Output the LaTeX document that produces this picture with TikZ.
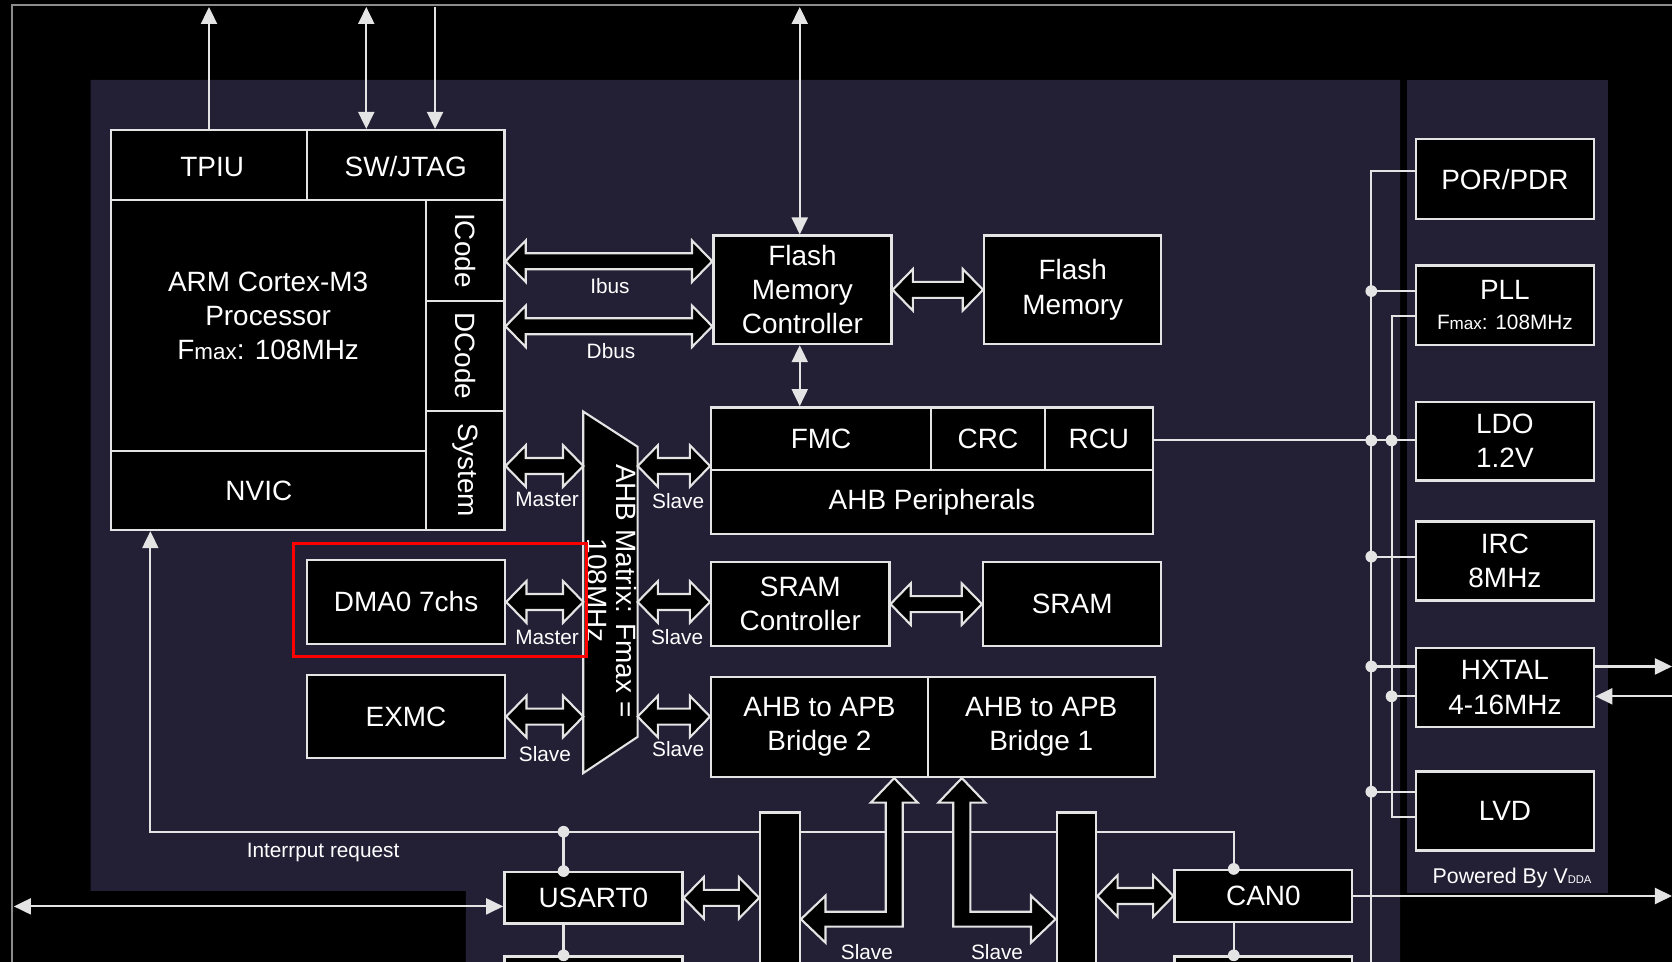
\documentclass[tikz,border=0pt]{standalone}
\usepackage{fontspec}
\setmainfont{Liberation Sans}
\usetikzlibrary{arrows.meta,calc}
\pgfdeclarelayer{background}
\pgfsetlayers{background,main}
\definecolor{bgpurple}{RGB}{35,31,53}
\definecolor{linec}{RGB}{228,228,228}
\definecolor{framec}{RGB}{140,140,140}
\newcommand\fbig{\fontsize{26.2}{32}\selectfont}
\newcommand\fsml{\fontsize{19.5}{22}\selectfont}
\newcommand\fmaxb{\fontsize{21}{22}\selectfont}
\newcommand\fmaxs{\fontsize{16}{18}\selectfont}
\newcommand\fdda{\fontsize{10.5}{12}\selectfont}
% horizontal hollow double arrow between two points on one level
\newcommand\hfat[2]{%
  \draw[fat] let \p1=#1, \p2=#2 in
    (\x1,\y1) -- (\x1+19pt,\y1+19.5pt) -- (\x1+19pt,\y1+7.5pt) --
    (\x2-19pt,\y2+7.5pt) -- (\x2-19pt,\y2+19.5pt) -- (\x2,\y2) --
    (\x2-19pt,\y2-19.5pt) -- (\x2-19pt,\y2-7.5pt) --
    (\x1+19pt,\y1-7.5pt) -- (\x1+19pt,\y1-19.5pt) -- cycle;}
% L-shaped hollow double arrow: tip up at #1, tip left at #2
\newcommand\lfatL[2]{%
  \draw[fat] let \p1=#1, \p2=#2 in
    (\x1,\y1) -- (\x1+22pt,\y1-23pt) -- (\x1+8pt,\y1-23pt) -- (\x1+8pt,\y2-7pt) --
    (\x2+23pt,\y2-7pt) -- (\x2+23pt,\y2-22pt) -- (\x2,\y2) -- (\x2+23pt,\y2+22pt) --
    (\x2+23pt,\y2+7pt) -- (\x1-8pt,\y2+7pt) -- (\x1-8pt,\y1-23pt) -- (\x1-22pt,\y1-23pt) -- cycle;}
% L-shaped hollow double arrow: tip up at #1, tip right at #2
\newcommand\lfatR[2]{%
  \draw[fat] let \p1=#1, \p2=#2 in
    (\x1,\y1) -- (\x1+22pt,\y1-23pt) -- (\x1+8pt,\y1-23pt) -- (\x1+8pt,\y2+7pt) --
    (\x2-23pt,\y2+7pt) -- (\x2-23pt,\y2+22pt) -- (\x2,\y2) -- (\x2-23pt,\y2-22pt) --
    (\x2-23pt,\y2-7pt) -- (\x1-8pt,\y2-7pt) -- (\x1-8pt,\y1-23pt) -- (\x1-22pt,\y1-23pt) -- cycle;}
\begin{document}
\begin{tikzpicture}[x=1pt,y=-1pt,
  >={Triangle[length=16pt,width=15pt]},
  box/.style={draw=linec, fill=black, line width=2.2pt, text=white, inner sep=0pt, align=center, font=\fbig},
  ln/.style={draw=linec, line width=2pt},
  fat/.style={draw=linec, fill=black, line width=2pt, line join=miter},
  lbl/.style={text=white, font=\fsml, inner sep=0pt},
  rbox/.style={box, minimum width=167.4pt, minimum height=74pt}]
\useasboundingbox (0,0) rectangle (1568,902);

% ---------- CPU block ----------
\node[box, minimum width=184pt, minimum height=65.6pt, text height=22pt, text depth=-3pt] (tpiu) at (196,154.8) {\kern6pt TPIU};
\node[box, minimum width=185pt, minimum height=65.6pt, text height=22pt, text depth=-3pt] (swj) at (380.5,154.8) {SW/JTAG};
\node[box, minimum width=295.5pt, minimum height=235.4pt] (cpu) at (251.75,305.3) {};
\node[text=white, font=\fbig, align=center, inner sep=0pt] (cputxt) at (251.5,296)
  {ARM Cortex-M3\\Processor\\F{\fmaxb max}: 108MHz};
\node[box, minimum width=295.5pt, minimum height=74pt] (nvic) at (251.75,460) {\kern-18pt NVIC};
\node[box, rotate=-90, minimum width=94.4pt, minimum height=73.5pt] (icode) at (436.25,234.8) {ICode};
\node[box, rotate=-90, minimum width=103.5pt, minimum height=73.5pt] (dcode) at (436.25,333.75) {DCode};
\node[box, rotate=-90, minimum width=111.5pt, minimum height=73.5pt] (sys) at (436.25,441.25) {System};

% ---------- memory / peripherals ----------
\node[box, minimum width=167pt, minimum height=101.6pt] (fmcctl) at (752.5,271.8) {Flash\\Memory\\Controller};
\node[box, minimum width=166pt, minimum height=101.6pt] (flash) at (1006,271.8) {Flash\\Memory};
\node[box, minimum width=206pt, minimum height=59pt] (fmc) at (770,411.5) {FMC};
\node[box, minimum width=107pt, minimum height=59pt] (crc) at (926.5,411.5) {CRC};
\node[box, minimum width=101pt, minimum height=59pt] (rcu) at (1030.5,411.5) {RCU};
\node[box, minimum width=414pt, minimum height=60pt] (ahbp) at (874,471) {AHB Peripherals};
\node[box, minimum width=167pt, minimum height=79pt] (sramc) at (750.5,566.5) {SRAM\\Controller};
\node[box, minimum width=167pt, minimum height=79pt] (sram) at (1005.5,566.5) {SRAM};
\node[box, minimum width=203pt, minimum height=93.6pt] (br2) at (768.5,681.8) {AHB to APB\\Bridge 2};
\node[box, minimum width=213pt, minimum height=93.6pt] (br1) at (976.5,681.8) {AHB to APB\\Bridge 1};
\node[box, minimum width=185.6pt, minimum height=79pt] (dma) at (380.8,564.5) {DMA0 7chs};
\node[box, minimum width=185.6pt, minimum height=78pt] (exmc) at (380.8,672) {EXMC};
\node[box, minimum width=167pt, minimum height=48pt] (usart) at (556.5,842) {USART0};
\node[box, minimum width=166.5pt, minimum height=48.5pt] (can) at (1184.75,840.25) {CAN0};
\node[box, minimum width=167pt, minimum height=63pt] (usartb) at (556.5,928.5) {};
\node[box, minimum width=166.5pt, minimum height=63pt] (canb) at (1184.75,928.5) {};

% ---------- right column ----------
\node[rbox, minimum height=74.7pt] (por) at (1411.3,168) {POR/PDR};
\node[rbox, minimum height=74.6pt] (pll) at (1411.3,286.3) {PLL\\[-4pt]{\fsml F{\fmaxs max}: 108MHz}};
\node[rbox] (ldo) at (1411.3,413.7) {LDO\\1.2V};
\node[rbox] (irc) at (1411.3,526) {IRC\\8MHz};
\node[rbox] (hxtal) at (1411.3,644.8) {HXTAL\\4-16MHz};
\node[rbox] (lvd) at (1411.3,760.5) {LVD};
\node[text=white, inner sep=0pt, font=\fontsize{20}{22}\selectfont] (pwr) at (1418,823) {Powered By V{\fdda DDA}};

% ---------- AHB matrix ----------
\coordinate (mxTL) at (547,386);
\coordinate (mxTR) at (598,419);
\coordinate (mxBR) at (598,691);
\coordinate (mxBL) at (547,725);
\draw[fat] (mxTL) -- (mxTR) -- (mxBR) -- (mxBL) -- cycle;
\node[text=white, font=\fontsize{26.2}{27.5}\selectfont, rotate=-90, align=center, inner sep=0pt] (mxt) at (574,554)
  {AHB Matrix: Fmax =\\108MHz};

% ---------- levels ----------
\coordinate (yIbus) at (0,245);
\coordinate (yDbus) at (0,306);
\coordinate (yS) at (0,437);
\coordinate (yL) at (0,862);
\coordinate (lA) at (838.6,0);
\coordinate (lB) at (902,0);

% ---------- fat arrows ----------
\hfat{(swj.east |- yIbus)}{(fmcctl.west |- yIbus)}
\hfat{(swj.east |- yDbus)}{(fmcctl.west |- yDbus)}
\hfat{(fmcctl.east)}{(flash.west |- fmcctl.east)}
\hfat{(swj.east |- yS)}{(mxTL |- yS)}
\hfat{(dma.east)}{(mxTL |- dma.east)}
\hfat{(exmc.east)}{(mxTL |- exmc.east)}
\hfat{(mxTR |- yS)}{(fmc.west |- yS)}
\hfat{(mxTR |- dma.east)}{(sramc.west |- dma.east)}
\hfat{(mxTR |- exmc.east)}{(br2.west |- exmc.east)}
\hfat{(sramc.east)}{(sram.west)}

% ---------- APB bus bars ----------
\node[box, minimum width=37pt, minimum height=198pt] (bar1) at (731.5,861) {};
\node[box, minimum width=37pt, minimum height=198pt] (bar2) at (1009.5,861) {};
\hfat{(usart.east)}{(bar1.west |- usart.east)}
\hfat{(bar2.east |- can.west)}{(can.west)}
\lfatL{(lA |- br2.south)}{(bar1.east |- yL)}
\lfatR{(lB |- br1.south)}{(bar2.west |- yL)}

% ---------- labels ----------
\node[lbl] (ibus) at (572,268) {Ibus};
\node[lbl] (dbus) at (573,329) {Dbus};
\node[lbl] (m1) at (513,468) {Master};
\node[lbl] (m2) at (513,597.5) {Master};
\node[lbl] (s0) at (511,707) {Slave};
\node[lbl] (s1) at (636,470) {Slave};
\node[lbl] (s2) at (635,597.5) {Slave};
\node[lbl] (s3) at (636,702) {Slave};
\node[lbl] (s4) at (813,893) {Slave};
\node[lbl] (s5) at (935,893) {Slave};
\node[lbl] (irq) at (303,799) {Interrput request};

% ---------- highlight ----------
\node[draw=red, line width=3pt, minimum width=275pt, minimum height=106pt, inner sep=0pt] (hl) at (412.5,563) {};

% ---------- coordinates for thin connectors ----------
\coordinate (ytop) at (0,6.5);
\coordinate (jA) at (343.5,6.5);
\coordinate (jB) at (408,6.5);
\coordinate (fA) at (750,6.5);
\coordinate (iR) at (1157,780);
\coordinate (iL) at (141,780);
\coordinate (iU) at (528.5,780);
\coordinate (uL) at (13,850);
\coordinate (xr) at (1568,0);
\coordinate (hx1) at (0,625);
\coordinate (hx2) at (0,653);
\coordinate (v1t) at (1286,160);
\coordinate (v1b) at (1286,915);
\coordinate (v2t) at (1305,296.4);
\coordinate (v2b) at (1305,766);
\coordinate (kP) at (1286,273);
\coordinate (kL) at (1286,413);
\coordinate (kL2) at (1305,413);
\coordinate (kI) at (1286,522);
\coordinate (kH) at (1286,625);
\coordinate (kH2) at (1305,653);
\coordinate (kV) at (1286,742.5);

\begin{pgfonlayer}{background}
  \fill[black] (0,0) rectangle (1568,902);
  \fill[bgpurple] (85,75) -- (1313,75) -- (1313,915) -- (437,915) -- (437,835.5) -- (85,835.5) -- cycle;
  \fill[bgpurple] (1319.5,75) rectangle (1508,837);
  \draw[framec, line width=1.8pt] (11,915) -- (11,5) -- (1580,5);
  % top connectors
  \draw[ln,->] (tpiu.north) -- (tpiu.north |- ytop);
  \draw[ln,<->] (jA) -- (jA |- swj.north);
  \draw[ln,->] (jB) -- (jB |- swj.north);
  \draw[ln,<->] (fA) -- (fA |- fmcctl.north);
  \draw[ln,<->] (fA |- fmcctl.south) -- (fA |- fmc.north);
  % interrupt request
  \draw[ln,->] (iR |- can.north) -- (iR) -- (iL) -- (iL |- nvic.south);
  \draw[ln] (iU) -- (iU |- usart.north);
  \draw[ln] (iU |- usart.south) -- (iU |- usartb.north);
  \draw[ln] (iR |- can.south) -- (iR |- canb.north);
  \draw[ln,<->] (uL) -- (uL -| usart.west);
  \draw[ln,->] (can.east) -- (can.east -| xr);
  % clock / power bus
  \draw[ln] (por.west |- v1t) -- (v1t) -- (v1b);
  \draw[ln] (pll.west |- v2t) -- (v2t) -- (v2b) -- (lvd.west |- v2b);
  \draw[ln] (kP) -- (pll.west |- kP);
  \draw[ln] (rcu.east |- kL) -- (ldo.west |- kL);
  \draw[ln] (kI) -- (irc.west |- kI);
  \draw[ln] (kH) -- (hxtal.west |- kH);
  \draw[ln] (kH2) -- (hxtal.west |- kH2);
  \draw[ln] (kV) -- (lvd.west |- kV);
  \draw[ln,->] (hxtal.east |- hx1) -- (xr |- hx1);
  \draw[ln,->] (xr |- hx2) -- (hxtal.east |- hx2);
\end{pgfonlayer}

% ---------- junction dots ----------
\foreach \p in {(iU), (iU |- usart.north), (iU |- usartb.north), (iR |- can.north), (iR |- canb.north),
                (kP), (kL), (kL2), (kI), (kH), (kH2), (kV)}
  \fill[linec] \p circle[radius=5.5pt];
\end{tikzpicture}
\end{document}
